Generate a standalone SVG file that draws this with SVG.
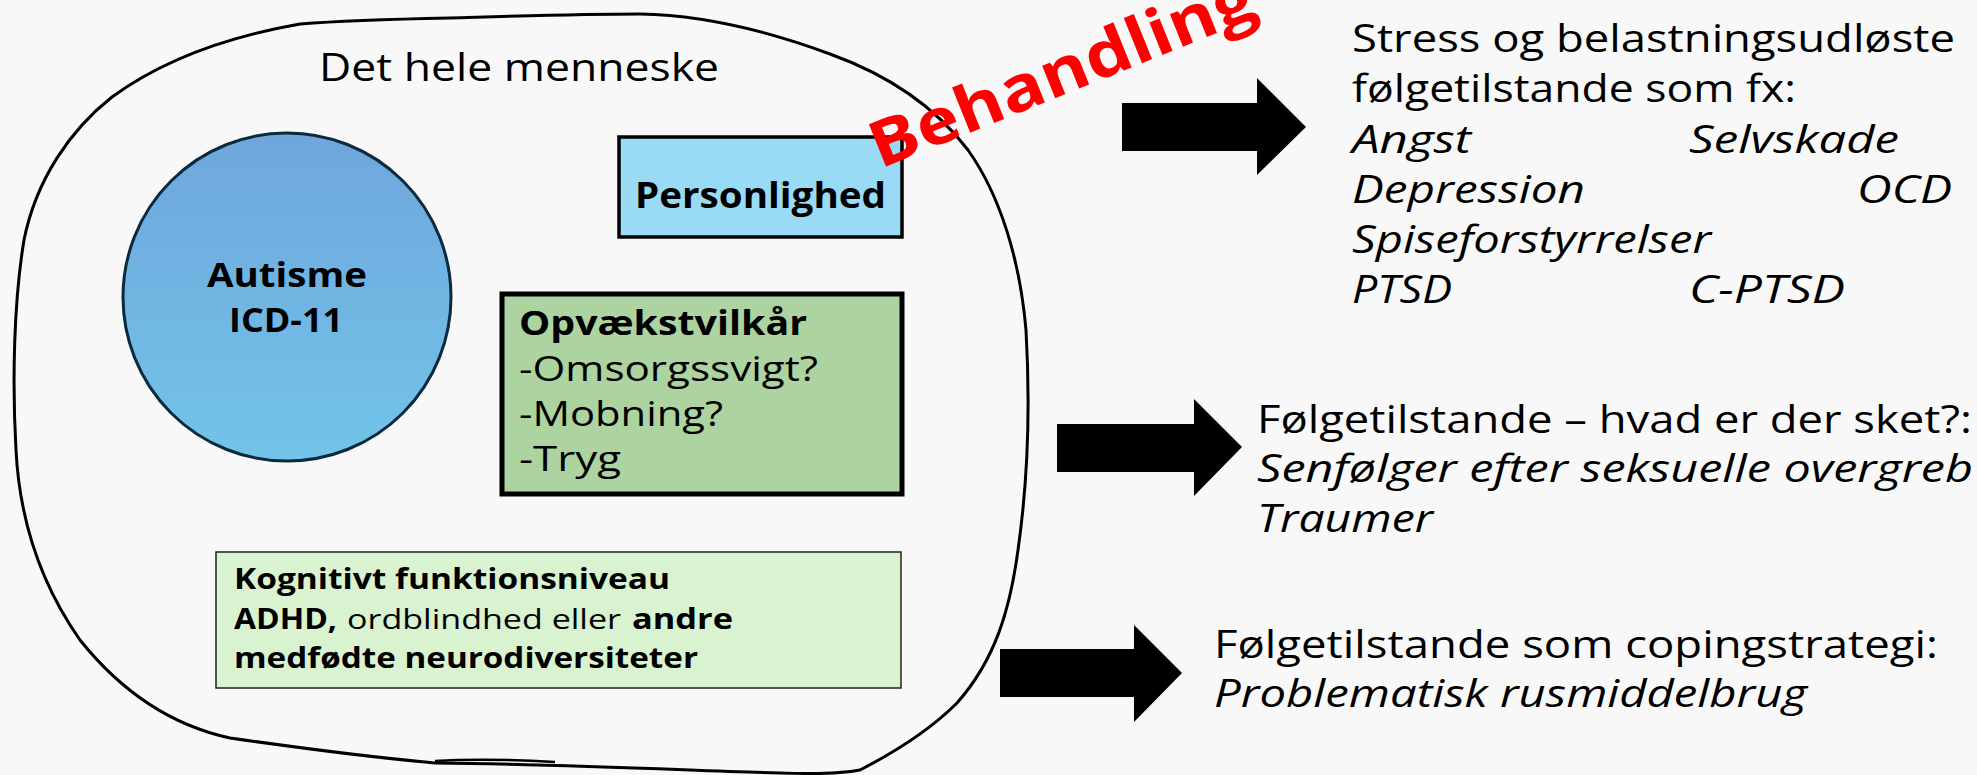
<svg xmlns="http://www.w3.org/2000/svg" width="1977" height="775" viewBox="0 0 1977 775">
<defs>
<linearGradient id="gAut" x1="0" y1="0" x2="0" y2="1">
<stop offset="0" stop-color="#6fa6dc"/>
<stop offset="1" stop-color="#72c4e9"/>
</linearGradient>
<style>
text{font-family:"Open Sans","Liberation Sans",sans-serif;fill:#000}
.b{font-weight:700}
.i{font-style:italic}
.r{font-size:38px}
.box3{font-size:34px}
.small{font-size:28px}
.arrow{fill:#000}
</style>
</defs>
<rect x="0" y="0" width="1977" height="775" fill="#f8f8f8"/>

<g id="whole-person">
<path d="M450,18 C520,16 580,14 640,14 C700,15 760,28 830,54 C880,72 930,100 968,150 C1000,195 1020,260 1026,330 C1030,400 1028,480 1018,550 C1010,610 995,660 957,703 C930,730 895,752 860,770 C840,774 810,774 780,773 C680,770 560,764 435,763 C380,758 300,748 230,738 C170,725 120,690 80,640 C45,590 20,530 16,450 C12,380 14,300 24,240 C36,180 70,130 112,97 C160,62 220,38 300,24 C350,20 400,19 450,18 Z" fill="none" stroke="#000" stroke-width="3"/>
<path d="M435,761 C470,759 520,760 555,762" fill="none" stroke="#000" stroke-width="2.5"/>
<text x="319" y="81" style="font-size:39px" textLength="400" lengthAdjust="spacingAndGlyphs">Det hele menneske</text>
</g>

<g id="autisme">
<circle cx="287" cy="297" r="164" fill="url(#gAut)" stroke="#0b2a3e" stroke-width="3"/>
<text class="b" x="287" y="287" text-anchor="middle" style="font-size:34px" textLength="160" lengthAdjust="spacingAndGlyphs">Autisme</text>
<text class="b" x="286" y="332" text-anchor="middle" style="font-size:34px" textLength="114" lengthAdjust="spacingAndGlyphs">ICD-11</text>
</g>

<g id="personlighed">
<rect x="619" y="137" width="283" height="100" fill="#99dbf5" stroke="#000" stroke-width="3.5"/>
<text class="b" x="635" y="208" style="font-size:36px" textLength="251" lengthAdjust="spacingAndGlyphs">Personlighed</text>
</g>

<g id="opvaekstvilkaar">
<rect x="502" y="294" width="400" height="200" fill="#add3a0" stroke="#000" stroke-width="5"/>
<text class="b box3" x="519" y="335" textLength="288" lengthAdjust="spacingAndGlyphs">Opvækstvilkår</text>
<text class="box3" x="519" y="381" textLength="299" lengthAdjust="spacingAndGlyphs">-Omsorgssvigt?</text>
<text class="box3" x="519" y="426" textLength="204" lengthAdjust="spacingAndGlyphs">-Mobning?</text>
<text class="box3" x="519" y="471" textLength="102" lengthAdjust="spacingAndGlyphs">-Tryg</text>
</g>

<g id="kognitivt">
<rect x="216" y="552" width="685" height="136" fill="#d9f2d0" stroke="#222" stroke-width="1.5"/>
<text class="b small" x="234" y="589" textLength="436" lengthAdjust="spacingAndGlyphs">Kognitivt funktionsniveau</text>
<text class="small" y="629"><tspan class="b" x="234" textLength="103" lengthAdjust="spacingAndGlyphs">ADHD,</tspan><tspan x="347" textLength="274" lengthAdjust="spacingAndGlyphs">ordblindhed eller</tspan><tspan class="b" x="632" textLength="101" lengthAdjust="spacingAndGlyphs">andre</tspan></text>
<text class="b small" x="234" y="668" textLength="464" lengthAdjust="spacingAndGlyphs">medfødte neurodiversiteter</text>
</g>

<g id="behandling">
<text class="b" transform="translate(880,169) rotate(-22)" style="font-size:64px;fill:#ff0000" textLength="410" lengthAdjust="spacingAndGlyphs">Behandling</text>
</g>

<g id="connectors">
<polygon class="arrow" points="1122,103 1257,103 1257,78 1306,127 1257,175 1257,151 1122,151"/>
<polygon class="arrow" points="1057,424 1194,424 1194,399 1242,447 1194,496 1194,472 1057,472"/>
<polygon class="arrow" points="1000,649 1134,649 1134,625 1182,673 1134,722 1134,697 1000,697"/>
</g>

<g id="stress">
<text class="r" x="1352" y="52" textLength="603" lengthAdjust="spacingAndGlyphs">Stress og belastningsudløste</text>
<text class="r" x="1352" y="102" textLength="444" lengthAdjust="spacingAndGlyphs">følgetilstande som fx:</text>
<text class="r i" x="1352" y="153" textLength="119" lengthAdjust="spacingAndGlyphs">Angst</text>
<text class="r i" x="1689" y="153" textLength="210" lengthAdjust="spacingAndGlyphs">Selvskade</text>
<text class="r i" x="1352" y="203" textLength="233" lengthAdjust="spacingAndGlyphs">Depression</text>
<text class="r i" x="1857" y="203" textLength="95" lengthAdjust="spacingAndGlyphs">OCD</text>
<text class="r i" x="1352" y="253" textLength="359" lengthAdjust="spacingAndGlyphs">Spiseforstyrrelser</text>
<text class="r i" x="1352" y="303" textLength="100" lengthAdjust="spacingAndGlyphs">PTSD</text>
<text class="r i" x="1689" y="303" textLength="156" lengthAdjust="spacingAndGlyphs">C-PTSD</text>
</g>

<g id="hvad-er-der-sket">
<text class="r" x="1257" y="433" textLength="715" lengthAdjust="spacingAndGlyphs">Følgetilstande – hvad er der sket?:</text>
<text class="r i" x="1257" y="482" textLength="716" lengthAdjust="spacingAndGlyphs">Senfølger efter seksuelle overgreb</text>
<text class="r i" x="1257" y="532" textLength="176" lengthAdjust="spacingAndGlyphs">Traumer</text>
</g>

<g id="copingstrategi">
<text class="r" x="1214" y="658" textLength="724" lengthAdjust="spacingAndGlyphs">Følgetilstande som copingstrategi:</text>
<text class="r i" x="1214" y="707" textLength="593" lengthAdjust="spacingAndGlyphs">Problematisk rusmiddelbrug</text>
</g>
</svg>
